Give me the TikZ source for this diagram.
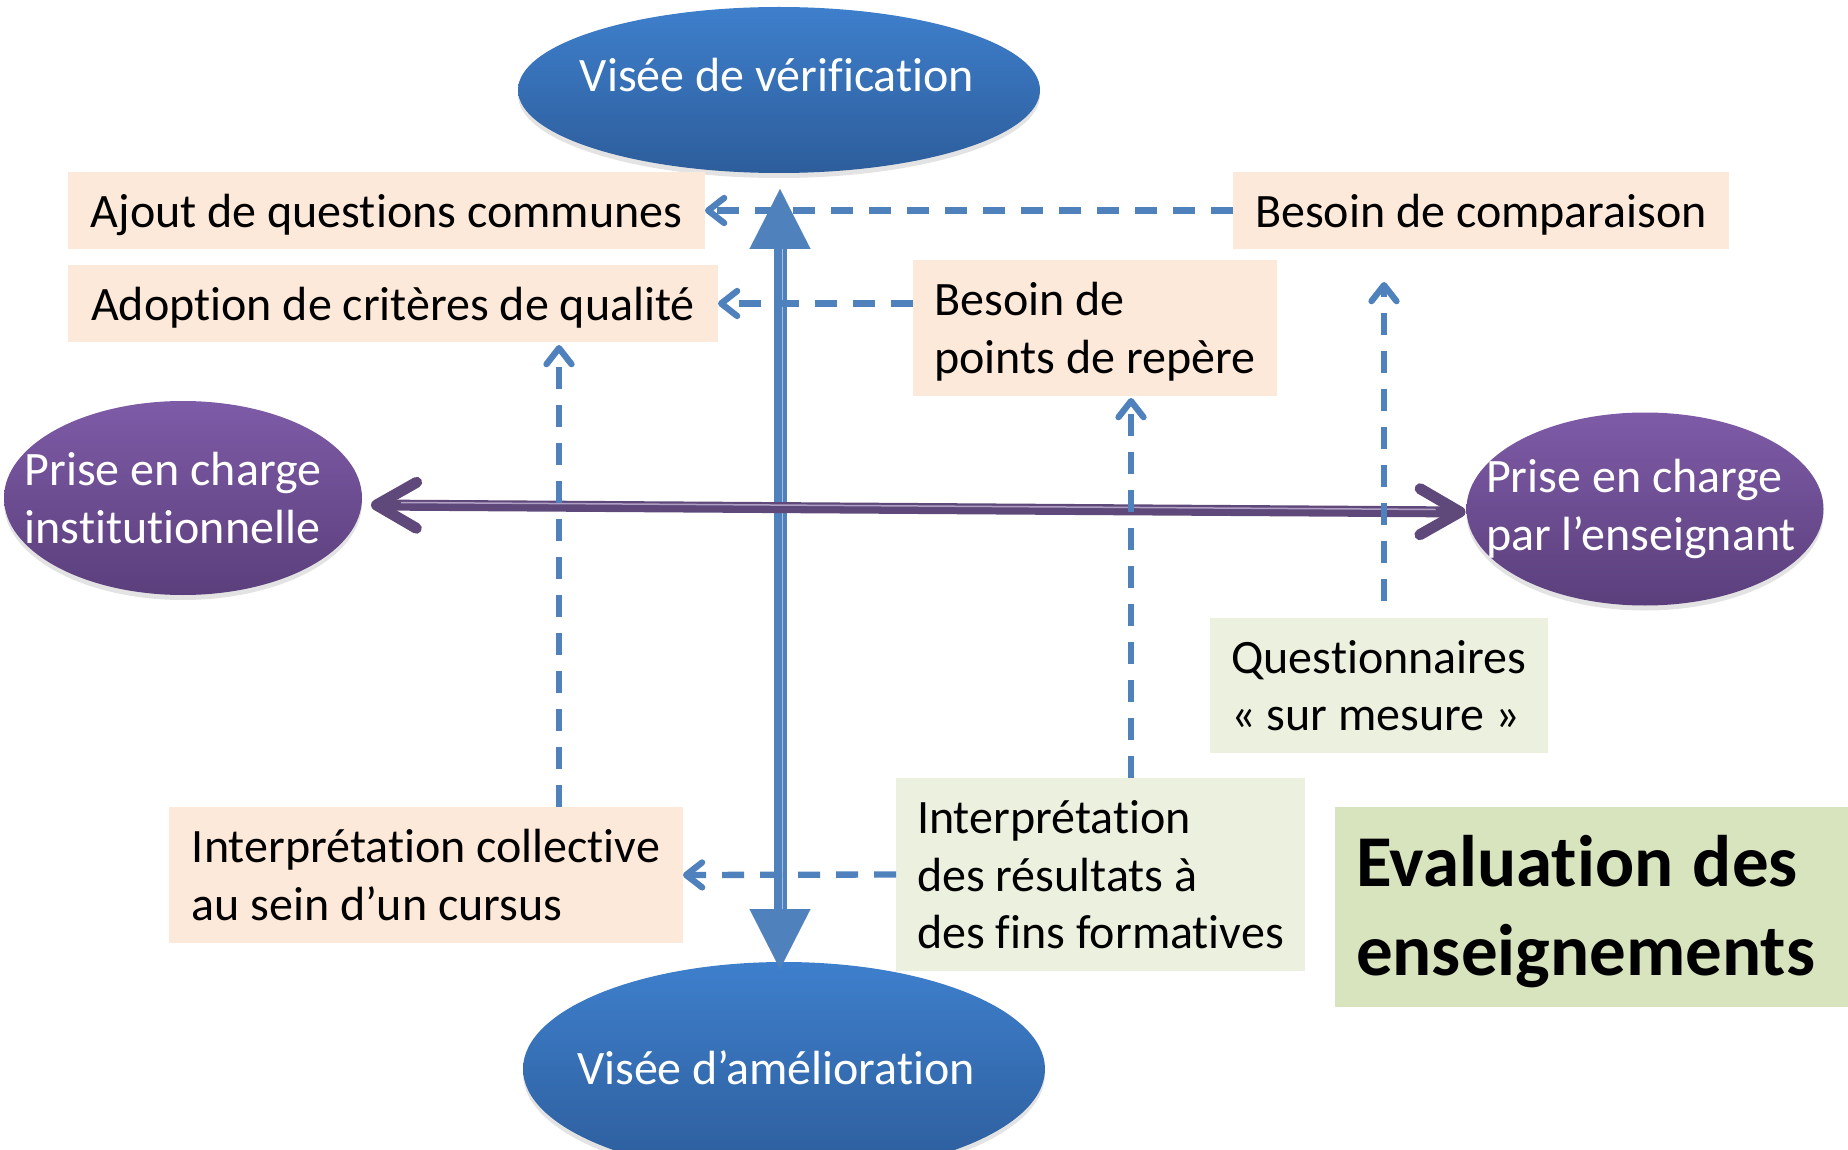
\documentclass[tikz,border=0pt]{standalone}
\usepackage{fontspec}
\setmainfont{Carlito}[Ligatures=NoCommon]
\usetikzlibrary{shapes.geometric,arrows.meta,calc,shadows}
\definecolor{peachc}{HTML}{FDE9D9}
\definecolor{greenl}{HTML}{EBF1DE}
\definecolor{greend}{HTML}{D7E4BD}
\definecolor{bluetop}{HTML}{3E7FCC}
\definecolor{bluebot}{HTML}{2D5D9B}
\definecolor{purtop}{HTML}{7E5BA7}
\definecolor{purbot}{HTML}{5B3F7C}
\definecolor{arrowblue}{HTML}{4F81BD}
\definecolor{arrowpur}{HTML}{5F497A}
\begin{document}
\begin{tikzpicture}[x=1pt,y=-1pt,
  every node/.style={inner sep=0pt, outer sep=0pt},
  box/.style={rectangle, inner sep=0pt, align=left, text=black, text depth=0pt, font=\fontsize{48pt}{57.6pt}\selectfont},
  peachbox/.style={box, fill=peachc},
  greenbox/.style={box, fill=greenl},
  titlebox/.style={rectangle, fill=greend, text=black, align=left, inner xsep=21pt, inner ysep=0pt, text width=471pt, text height=50pt, text depth=92pt, font=\fontsize{73pt}{89pt}\selectfont\bfseries},
  ell/.style={ellipse, inner sep=0pt, drop shadow={opacity=0.22, shadow xshift=0pt, shadow yshift=-5pt}},
  blueell/.style={ell, top color=bluetop, bottom color=bluebot},
  purell/.style={ell, top color=purtop, bottom color=purbot},
  elltext/.style={text=white, font=\fontsize{48pt}{57.6pt}\selectfont, align=left},
  dasharrow/.style={draw=arrowblue, line width=6.3pt, dash pattern=on 22pt off 16pt, -{Straight Barb[length=16pt,width=25pt,round]}},
]
\useasboundingbox (0,0) rectangle (1848,1150);

% ellipses
\node[blueell, minimum width=522pt, minimum height=166pt] (T) at (779,90) {};
\node[blueell, minimum width=522pt, minimum height=214pt] (Bo) at (784,1069) {};
\node[purell, minimum width=358pt, minimum height=194pt] (L) at (183,498) {};
\node[purell, minimum width=357pt, minimum height=193pt] (R) at (1645,509) {};

\node[elltext, anchor=base] (Tt) at (777,92) {Visée de vérification};
\node[elltext, anchor=base] (Bt) at (776,1084) {Visée d’amélioration};
\node[elltext] (Lt) at (173,498) {Prise en charge\\institutionnelle};
\node[elltext] (Rt) at (1641,509) {Prise en charge\\par l’enseignant};

% boxes
\node[peachbox, minimum width=637pt, minimum height=77pt] (A) at (386.5,210.5) {Ajout de questions communes};
\node[peachbox, minimum width=650pt, minimum height=77pt] (B) at (393,303.5) {Adoption de critères de qualité};
\node[peachbox, minimum width=496pt, minimum height=77pt] (C) at (1481,210.5) {Besoin de comparaison};
\node[peachbox, minimum width=364pt, minimum height=136pt] (D) at (1095,328) {Besoin de\\points de repère};
\node[greenbox, minimum width=338pt, minimum height=135pt] (E) at (1379,685.5) {Questionnaires\\« sur mesure »};
\node[peachbox, minimum width=514pt, minimum height=136pt] (F) at (426,875) {Interprétation collective\\au sein d’un cursus};
\node[greenbox, minimum width=409pt, minimum height=193pt] (G) at (1100.5,874.5) {Interprétation\\des résultats à\\des fins formatives};
\node[titlebox, minimum height=200pt] (H) at (1591.5,907) {\mbox{Evaluation\kern-5pt\ des}\\\mbox{enseignements}};

% vertical double arrow
\coordinate (vt) at ($(T.south)+(1,16)$);
\coordinate (vb) at ($(Bo.north)+(-4,7)$);
\draw[line width=13pt, arrowblue, {Triangle[length=60pt,width=61pt,line width=0.1pt]}-{Triangle[length=60pt,width=61pt,line width=0.1pt]}] (vt) -- (vb);
\draw[line width=1.6pt, white, opacity=0.5] ($(vt)+(2.5,60)$) -- ($(vb)+(2.5,-60)$);

% horizontal double arrow
\coordinate (pl) at ($(L.east)+(9,7)$);
\coordinate (pr) at ($(R.west)+(-1,3)$);
\draw[line width=11pt, arrowpur, line cap=round, {Straight Barb[length=40pt,width=46pt,round]}-{Straight Barb[length=40pt,width=46pt,round]}] (pl) -- (pr);
\draw[line width=1.5pt, purtop!45!white, opacity=0.8] ($(pl)+(30,-2.5)$) -- ($(pr)+(-30,-2.5)$);

% dashed arrows
\draw[dasharrow] (C.west) -- (A.east);
\draw[dasharrow] (D.west |- B.east) -- (B.east);
\draw[dasharrow] ($(F.north west)+(390,0)$) -- ($(B.south west)+(491,3)$);
\draw[dasharrow] ($(G.north west)+(235,0)$) -- ($(D.south west)+(218,2)$);
\draw[dasharrow] ($(E.north west)+(174,-17)$) -- ($(C.south west)+(151,33)$);
\draw[dasharrow] (G.west) -- (F.east);
\end{tikzpicture}
\end{document}
